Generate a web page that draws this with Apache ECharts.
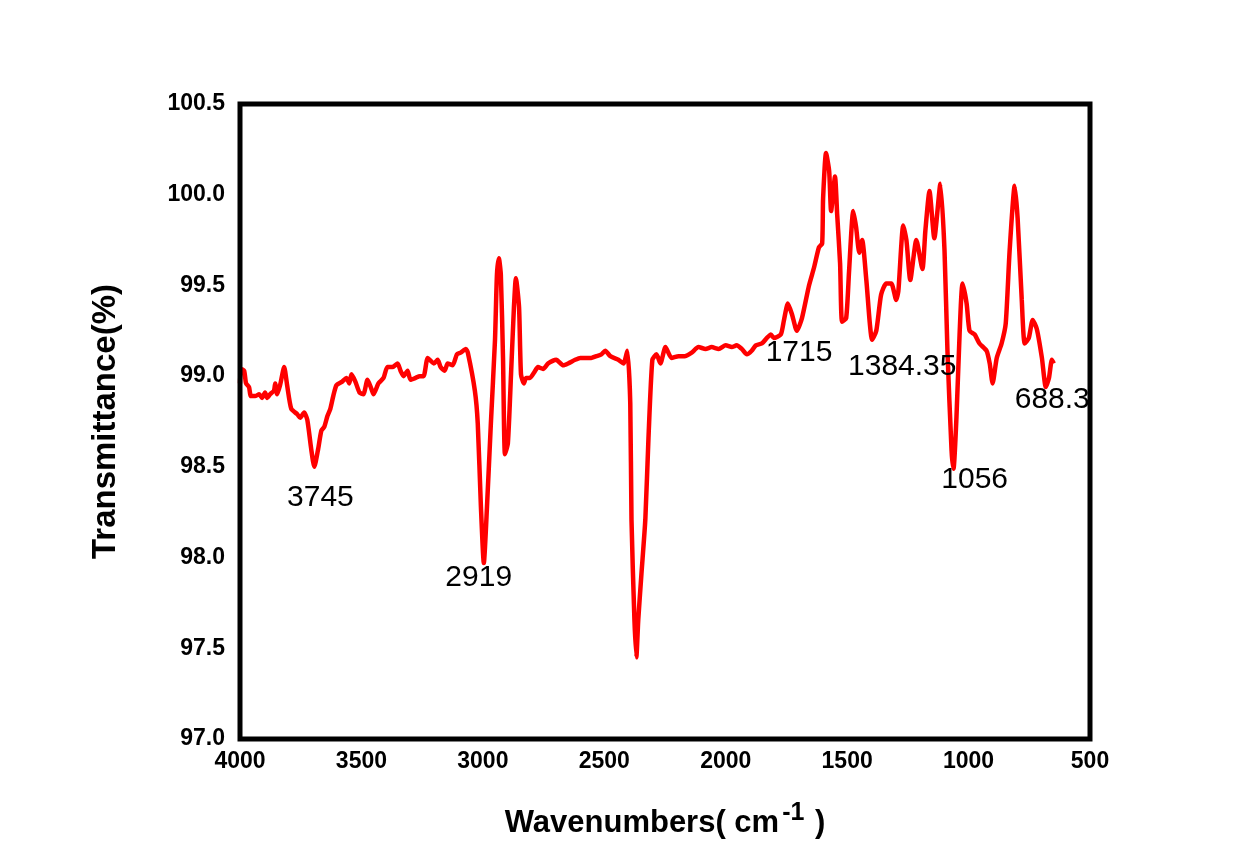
<!DOCTYPE html>
<html>
<head>
<meta charset="utf-8">
<script src="https://cdn.jsdelivr.net/npm/echarts@6/dist/echarts.min.js"></script>
<style>
  html, body { margin: 0; padding: 0; background: #fff; }
  #chart { width: 1248px; height: 867px; }
</style>
</head>
<body>
<div id="chart"></div>
<script>
// FTIR spectrum
const wavenumbers = [
  4000, 3996, 3983, 3975, 3963, 3955, 3938, 3921, 3909, 3897, 3888, 3876, 3860, 3855, 3847, 3835,
  3818, 3806, 3789, 3764, 3752, 3736, 3723, 3707, 3694, 3678, 3665, 3653, 3640, 3628, 3616, 3603,
  3579, 3562, 3550, 3541, 3525, 3508, 3492, 3475, 3459, 3450, 3430, 3409, 3393, 3372, 3351, 3339,
  3326, 3310, 3298, 3277, 3260, 3244, 3227, 3202, 3186, 3174, 3157, 3145, 3124, 3107, 3091, 3070,
  3062, 3033, 3021, 3008, 2996, 2983, 2967, 2950, 2942, 2934, 2926, 2917, 2909, 2897, 2884, 2872,
  2864, 2851, 2843, 2831, 2822, 2806, 2789, 2773, 2752, 2731, 2698, 2669, 2649, 2620, 2599, 2579,
  2554, 2533, 2512, 2496, 2475, 2442, 2421, 2405, 2393, 2388, 2376, 2368, 2360, 2347, 2331, 2318,
  2302, 2285, 2269, 2248, 2223, 2194, 2169, 2140, 2112, 2083, 2058, 2029, 2000, 1975, 1955, 1934,
  1913, 1893, 1876, 1851, 1831, 1814, 1802, 1773, 1760, 1744, 1727, 1707, 1686, 1657, 1636, 1616,
  1603, 1599, 1587, 1574, 1566, 1550, 1541, 1529, 1521, 1504, 1492, 1475, 1463, 1450, 1438, 1421,
  1397, 1380, 1360, 1339, 1318, 1298, 1289, 1269, 1256, 1240, 1215, 1190, 1178, 1161, 1141, 1116,
  1099, 1087, 1070, 1062, 1050, 1037, 1025, 1008, 996, 975, 955, 926, 913, 901, 884, 864,
  847, 831, 810, 798, 781, 769, 752, 736, 719, 698, 682, 669, 657, 649
];
const transmittance = [
  98.96, 99.04, 99.03, 98.96, 98.94, 98.89, 98.89, 98.90, 98.88, 98.91, 98.88, 98.90, 98.92, 98.96, 98.90, 98.95,
  99.05, 98.95, 98.82, 98.79, 98.77, 98.80, 98.76, 98.60, 98.50, 98.60, 98.70, 98.72, 98.78, 98.82, 98.89, 98.95,
  98.97, 98.99, 98.96, 99.01, 98.97, 98.91, 98.90, 98.98, 98.93, 98.90, 98.96, 98.99, 99.05, 99.05, 99.07, 99.03,
  99.00, 99.03, 98.98, 98.99, 99.00, 99.00, 99.10, 99.07, 99.09, 99.05, 99.03, 99.07, 99.06, 99.12, 99.13, 99.15,
  99.13, 98.92, 98.74, 98.28, 97.97, 98.28, 98.74, 99.20, 99.56, 99.65, 99.56, 99.10, 98.57, 98.63, 99.01, 99.38,
  99.54, 99.38, 99.01, 98.96, 98.99, 98.99, 99.02, 99.05, 99.04, 99.07, 99.09, 99.06, 99.07, 99.09, 99.10, 99.10,
  99.10, 99.11, 99.12, 99.14, 99.11, 99.09, 99.07, 99.14, 98.85, 98.21, 97.66, 97.45, 97.66, 97.91, 98.21, 98.66,
  99.09, 99.12, 99.07, 99.16, 99.10, 99.11, 99.11, 99.13, 99.16, 99.15, 99.16, 99.15, 99.17, 99.16, 99.17, 99.15,
  99.12, 99.14, 99.17, 99.18, 99.21, 99.23, 99.21, 99.23, 99.31, 99.40, 99.34, 99.25, 99.32, 99.50, 99.60, 99.71,
  99.73, 99.98, 100.23, 100.13, 99.91, 100.10, 99.89, 99.62, 99.30, 99.32, 99.58, 99.91, 99.82, 99.68, 99.75, 99.53,
  99.20, 99.25, 99.45, 99.51, 99.51, 99.42, 99.47, 99.83, 99.75, 99.53, 99.75, 99.59, 99.80, 100.02, 99.76, 100.06,
  99.69, 99.14, 98.59, 98.49, 98.77, 99.23, 99.51, 99.40, 99.25, 99.23, 99.18, 99.14, 99.07, 98.96, 99.10, 99.18,
  99.29, 99.69, 100.05, 99.87, 99.42, 99.18, 99.21, 99.31, 99.26, 99.10, 98.94, 98.99, 99.09, 99.07
];

// peak annotations: text and where it sits (data units)
const peakText = ['3745', '2919', '1715', '1384.35', '1056', '688.3'];
const peakX = [3669, 3017, 1698, 1273, 975, 810];
const peakY = [98.33, 97.89, 99.13, 99.05, 98.43, 98.87];

const chart = echarts.init(document.getElementById('chart'));

const gridBox = { left: 240, top: 104, right: 158, bottom: 128 };
const font = 'Liberation Sans, Arial, sans-serif';

chart.setOption({
  backgroundColor: '#ffffff',
  animation: false,
  grid: {
    left: gridBox.left,
    top: gridBox.top,
    right: gridBox.right,
    bottom: gridBox.bottom,
    show: false
  },
  xAxis: {
    type: 'value',
    inverse: true,
    min: 500,
    max: 4000,
    interval: 500,
    name: 'Wavenumbers( cm{sup|-1} )',
    nameLocation: 'middle',
    nameGap: 62,
    nameTextStyle: {
      fontFamily: font,
      fontSize: 31,
      fontWeight: 'bold',
      color: '#000',
      rich: {
        sup: {
          fontFamily: font,
          fontSize: 25,
          fontWeight: 'bold',
          color: '#000',
          verticalAlign: 'bottom',
          padding: [0, 2, 20, 3]
        }
      }
    },
    axisLine: { show: false },
    axisTick: { show: false },
    splitLine: { show: false },
    axisLabel: {
      margin: 11,
      fontFamily: font,
      fontSize: 23,
      fontWeight: 'bold',
      color: '#000',
      showMinLabel: true,
      showMaxLabel: true,
      formatter: v => String(v)
    }
  },
  yAxis: {
    type: 'value',
    min: 97,
    max: 100.5,
    interval: 0.5,
    name: 'Transmittance(%)',
    nameLocation: 'middle',
    nameGap: 118,
    nameRotate: 90,
    nameTextStyle: {
      fontFamily: font,
      fontSize: 33,
      fontWeight: 'bold',
      color: '#000'
    },
    axisLine: { show: false },
    axisTick: { show: false },
    splitLine: { show: false },
    axisLabel: {
      margin: 15,
      fontFamily: font,
      fontSize: 23,
      fontWeight: 'bold',
      color: '#000',
      formatter: v => v.toFixed(1)
    }
  },
  series: [{
    type: 'line',
    data: wavenumbers.map((w, i) => [w, transmittance[i]]),
    showSymbol: false,
    smooth: 0.2,
    clip: false,
    lineStyle: { color: '#ff0000', width: 4.5 },
    markPoint: {
      symbol: 'rect',
      symbolSize: 0,
      silent: true,
      label: {
        show: true,
        position: 'inside',
        fontFamily: font,
        fontSize: 30,
        color: '#000',
        formatter: p => p.name
      },
      data: peakText.map((t, i) => ({
        name: t,
        coord: [peakX[i], peakY[i]],
        label: i === peakText.length - 1 ? { align: 'left' } : {}
      }))
    }
  }],
  // plot frame drawn over the curve
  graphic: [{
    type: 'rect',
    z: 100,
    shape: {
      x: gridBox.left,
      y: gridBox.top,
      width: 1248 - gridBox.left - gridBox.right,
      height: 867 - gridBox.top - gridBox.bottom
    },
    style: { fill: 'none', stroke: '#000', lineWidth: 5 }
  }]
});
</script>
</body>
</html>
